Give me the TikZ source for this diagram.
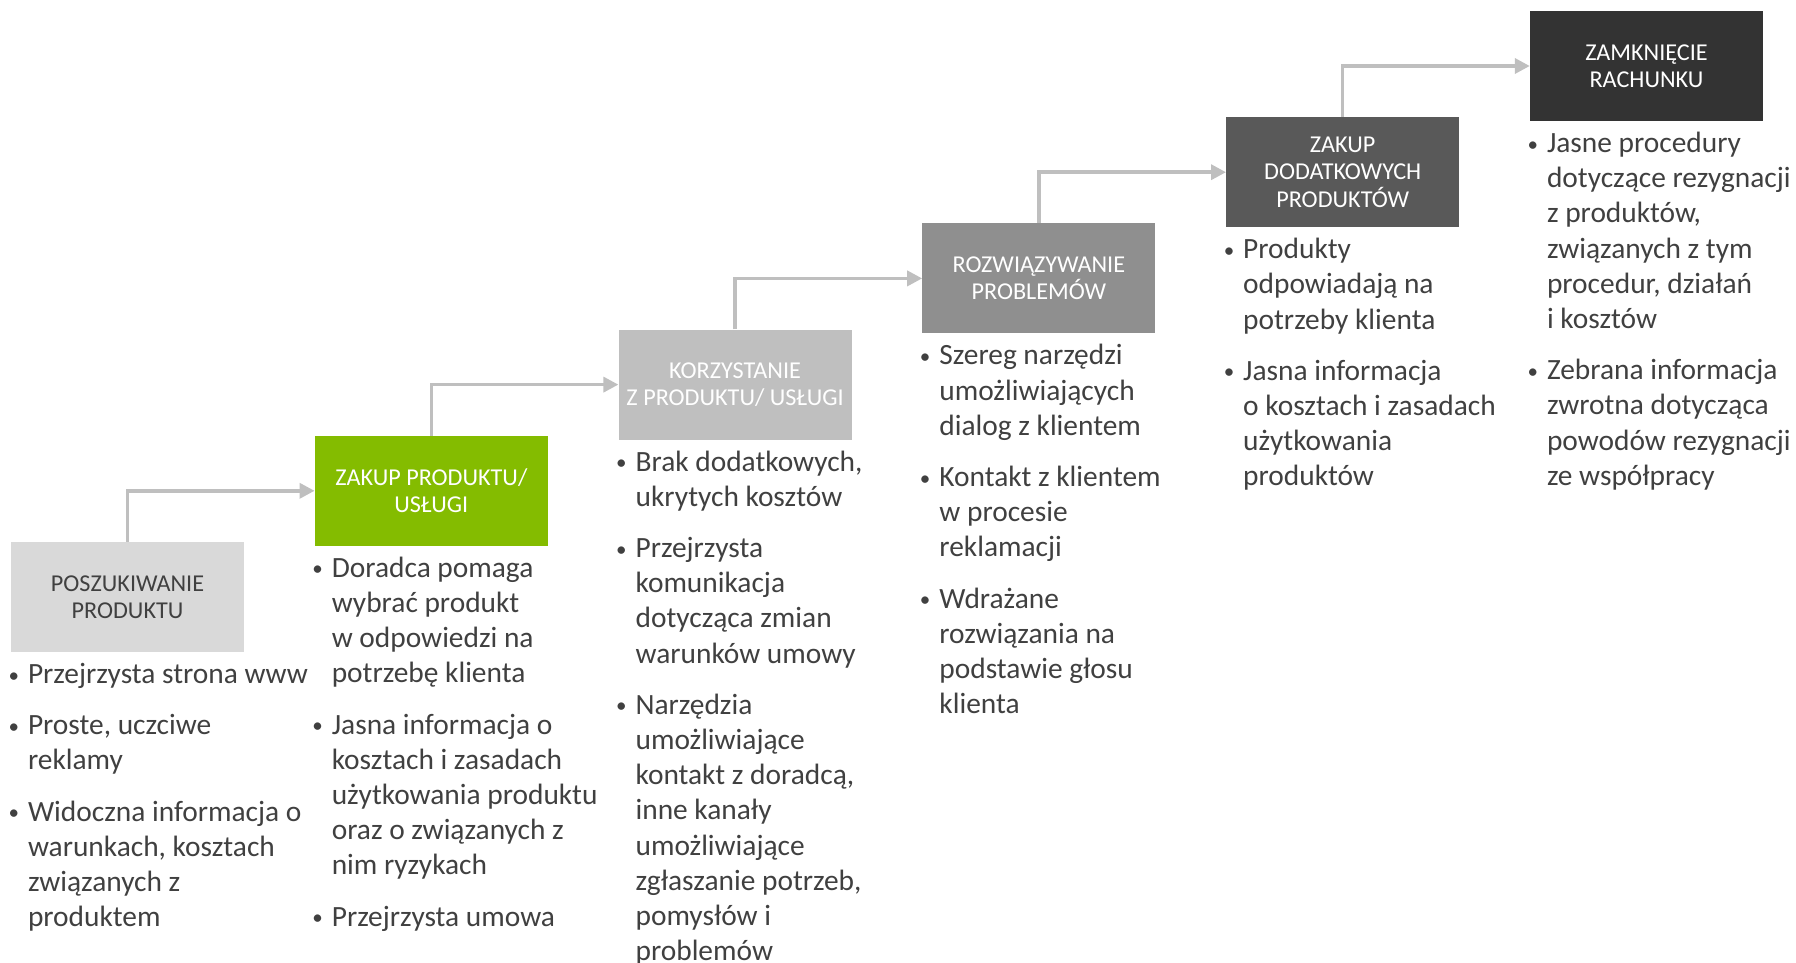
\documentclass[tikz,border=0pt]{standalone}
\usepackage{fontspec}
\setmainfont{Carlito}
\usetikzlibrary{arrows.meta}
\definecolor{txt}{HTML}{404040}
\definecolor{arr}{HTML}{BFBFBF}
\definecolor{c1}{HTML}{D9D9D9}
\definecolor{c2}{HTML}{84BC00}
\definecolor{c3}{HTML}{BFBFBF}
\definecolor{c4}{HTML}{8F8F8F}
\definecolor{c5}{HTML}{595959}
\definecolor{c6}{HTML}{333333}
\tikzset{
  stage/.style={minimum width=233pt, minimum height=110pt, inner sep=0pt, align=center,
    font=\fontsize{24.2}{27.5}\selectfont, text=white},
  bullets/.style={anchor=north west, inner sep=0pt, align=left, text=txt,
    font=\fontsize{29.4}{35.2}\selectfont},
  flow/.style={draw=arr, line width=3.5pt, -{Triangle[length=15pt,width=15pt]}},
}
\newcommand\bul{\strut\llap{\raisebox{1.5pt}{\fontsize{21}{21}\selectfont\textbullet}\hspace{9pt}}}
\begin{document}
\begin{tikzpicture}[x=1pt,y=-1pt]
\useasboundingbox (0,0) rectangle (1796,962);
\node[stage, fill=c1, text=txt] (b1) at (127.5,597) {POSZUKIWANIE\\PRODUKTU};
\node[stage, fill=c2] (b2) at (431.3,490.8) {ZAKUP PRODUKTU/\\USŁUGI};
\node[stage, fill=c3] (b3) at (735.1,384.6) {KORZYSTANIE\\Z PRODUKTU/ USŁUGI};
\node[stage, fill=c4] (b4) at (1038.9,278.4) {ROZWIĄZYWANIE\\PROBLEMÓW};
\node[stage, fill=c5] (b5) at (1342.7,172.2) {ZAKUP\\DODATKOWYCH\\PRODUKTÓW};
\node[stage, fill=c6] (b6) at (1646.5,66) {ZAMKNIĘCIE\\RACHUNKU};

\draw[flow] (b1.north) |- (b2.west);
\draw[flow] (b2.north) |- (b3.west);
\draw[flow] (b3.north) |- (b4.west);
\draw[flow] (b4.north) |- (b5.west);
\draw[flow] (b5.north) |- (b6.west);

\node[bullets] (t1) at ([xshift=17pt,yshift=-6.5pt]b1.south west) {%
\bul Przejrzysta strona www\\[16pt]
\bul Proste, uczciwe\\ reklamy\\[16pt]
\bul Widoczna informacja o\\ warunkach, kosztach\\ związanych z\\ produktem};
\node[bullets] (t2) at ([xshift=17pt,yshift=-6.5pt]b2.south west) {%
\bul Doradca pomaga\\ wybrać produkt\\ w odpowiedzi na\\ potrzebę klienta\\[16pt]
\bul Jasna informacja o\\ kosztach i zasadach\\ użytkowania produktu\\ oraz o związanych z\\ nim ryzykach\\[16pt]
\bul Przejrzysta umowa};
\node[bullets] (t3) at ([xshift=17pt,yshift=-6.5pt]b3.south west) {%
\bul Brak dodatkowych,\\ ukrytych kosztów\\[16pt]
\bul Przejrzysta\\ komunikacja\\ dotycząca zmian\\ warunków umowy\\[16pt]
\bul Narzędzia\\ umożliwiające\\ kontakt z doradcą,\\ inne kanały\\ umożliwiające\\ zgłaszanie potrzeb,\\ pomysłów i\\ problemów};
\node[bullets] (t4) at ([xshift=17pt,yshift=-6.5pt]b4.south west) {%
\bul Szereg narzędzi\\ umożliwiających\\ dialog z klientem\\[16pt]
\bul Kontakt z klientem\\ w procesie\\ reklamacji\\[16pt]
\bul Wdrażane\\ rozwiązania na\\ podstawie głosu\\ klienta};
\node[bullets] (t5) at ([xshift=17pt,yshift=-6.5pt]b5.south west) {%
\bul Produkty\\ odpowiadają na\\ potrzeby klienta\\[16pt]
\bul Jasna informacja\\ o kosztach i zasadach\\ użytkowania\\ produktów};
\node[bullets] (t6) at ([xshift=17pt,yshift=-6.5pt]b6.south west) {%
\bul Jasne procedury\\ dotyczące rezygnacji\\ z produktów,\\ związanych z tym\\ procedur, działań\\ i kosztów\\[16pt]
\bul Zebrana informacja\\ zwrotna dotycząca\\ powodów rezygnacji\\ ze współpracy};
\end{tikzpicture}
\end{document}
